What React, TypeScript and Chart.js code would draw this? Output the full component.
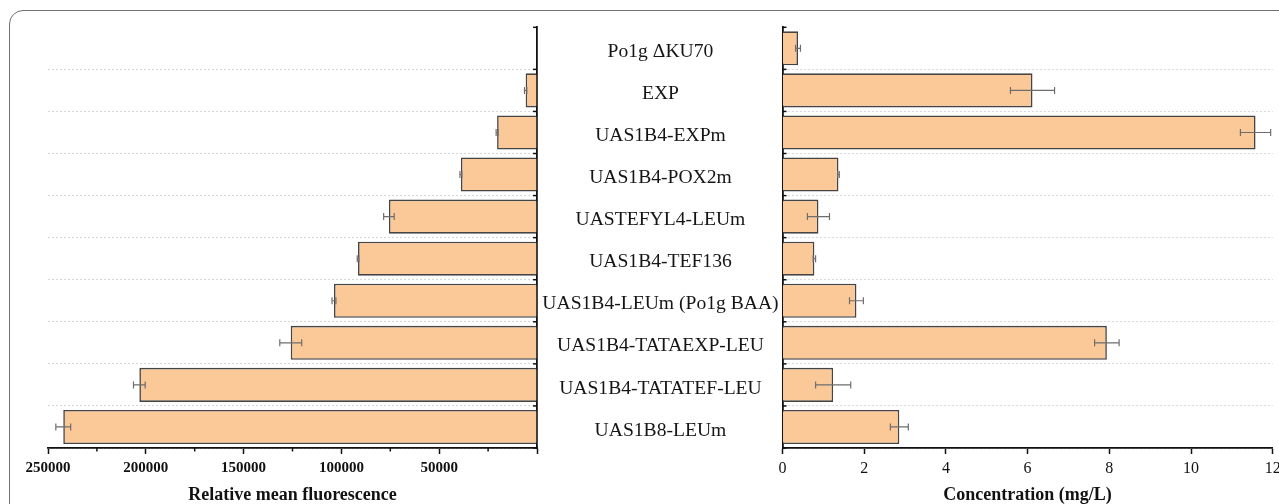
import React, { useEffect, useRef } from "react";
import { Chart, registerables } from "chart.js";

Chart.register(...registerables);

const categories = [
  "Po1g \u0394KU70",
  "EXP",
  "UAS1B4-EXPm",
  "UAS1B4-POX2m",
  "UASTEFYL4-LEUm",
  "UAS1B4-TEF136",
  "UAS1B4-LEUm (Po1g BAA)",
  "UAS1B4-TATAEXP-LEU",
  "UAS1B4-TATATEF-LEU",
  "UAS1B8-LEUm",
];
const fluorescence = [0, 5800, 20400, 38900, 75700, 91500, 103800, 125900, 203300, 242200];
const fluorescenceErr = [0, 600, 500, 500, 2700, 400, 1000, 5600, 3000, 3800];
const concentration = [0.38, 6.12, 11.58, 1.37, 0.88, 0.78, 1.81, 7.94, 1.24, 2.86];
const concentrationErr = [0.06, 0.54, 0.37, 0.02, 0.27, 0.03, 0.17, 0.3, 0.43, 0.22];
const fluorescenceTicks = [50000, 100000, 150000, 200000, 250000];
const fluorescenceMinorTicks = [25000, 75000, 125000, 175000, 225000];

const SERIF = '"Liberation Serif", "Times New Roman", serif';
const BAR_FILL = "rgb(251, 200, 152)";
const BAR_BORDER = "#444444";
const AXIS = "#111";

const errorBarPlugin = {
  id: "errorBars",
  afterDatasetsDraw(chart: any) {
    const errs: number[] = chart.options.plugins.errorBars.errors;
    const vals: number[] = chart.data.datasets[0].data;
    const meta = chart.getDatasetMeta(0);
    const xs = chart.scales.x;
    const ctx = chart.ctx;
    ctx.save();
    ctx.strokeStyle = "#6e6e6e";
    ctx.lineWidth = 1.2;
    meta.data.forEach((el: any, i: number) => {
      const e = errs[i];
      if (!e) return;
      const x1 = xs.getPixelForValue(vals[i] - e);
      const x2 = xs.getPixelForValue(vals[i] + e);
      const y = el.y;
      ctx.beginPath();
      ctx.moveTo(x1, y);
      ctx.lineTo(x2, y);
      ctx.moveTo(x1, y - 3.5);
      ctx.lineTo(x1, y + 3.5);
      ctx.moveTo(x2, y - 3.5);
      ctx.lineTo(x2, y + 3.5);
      ctx.stroke();
    });
    ctx.restore();
  },
};

const innerTicksPlugin = {
  id: "innerTicks",
  afterDraw(chart: any) {
    const opts = chart.options.plugins.innerTicks;
    const ys = chart.scales.y;
    const ctx = chart.ctx;
    const n = chart.data.labels.length;
    const step = ys.getPixelForValue(1) - ys.getPixelForValue(0);
    const axisX = opts.side === "right" ? chart.chartArea.right : chart.chartArea.left;
    const dir = opts.side === "right" ? -1 : 1;
    ctx.save();
    ctx.strokeStyle = AXIS;
    ctx.lineWidth = 1.5;
    for (let i = 0; i <= n; i++) {
      const y = ys.getPixelForValue(0) - step / 2 + i * step;
      ctx.beginPath();
      ctx.moveTo(axisX, y);
      ctx.lineTo(axisX + dir * 4, y);
      ctx.stroke();
    }
    const minor: number[] = opts.minor || [];
    const xs = chart.scales.x;
    minor.forEach((v) => {
      const x = xs.getPixelForValue(v);
      ctx.beginPath();
      ctx.moveTo(x, chart.chartArea.bottom);
      ctx.lineTo(x, chart.chartArea.bottom + 3.5);
      ctx.stroke();
    });
    ctx.restore();
  },
};

const categoryLabelPlugin = {
  id: "categoryLabels",
  afterDraw(chart: any) {
    const opts = chart.options.plugins.categoryLabels;
    if (!opts || !opts.show) return;
    const ys = chart.scales.y;
    const ctx = chart.ctx;
    ctx.save();
    ctx.font = `19.6px ${SERIF}`;
    ctx.fillStyle = "#151515";
    ctx.textAlign = "center";
    ctx.textBaseline = "middle";
    const cx = chart.chartArea.left / 2 + 0.7;
    chart.data.labels.forEach((lab: string, i: number) => {
      ctx.fillText(lab, cx, ys.getPixelForValue(i) + 3.5);
    });
    ctx.restore();
  },
};

function gridColor(ctx: any) {
  return ctx.index === 0 || ctx.index === categories.length ? "rgba(0,0,0,0)" : "#d6d6d6";
}

function baseDataset(data: number[]) {
  return {
    data,
    backgroundColor: BAR_FILL,
    borderColor: BAR_BORDER,
    borderWidth: 1.6,
    categoryPercentage: 1,
    barPercentage: 0.81,
  };
}

export default function App() {
  const leftRef = useRef<HTMLCanvasElement>(null);
  const rightRef = useRef<HTMLCanvasElement>(null);

  useEffect(() => {
    const left = new Chart(leftRef.current!, {
      type: "bar",
      data: { labels: categories, datasets: [baseDataset(fluorescence) as any] },
      plugins: [errorBarPlugin, innerTicksPlugin],
      options: {
        indexAxis: "y",
        animation: false,
        responsive: false,
        layout: { padding: { left: 48, right: 8, top: 27.3, bottom: 0 } },
        plugins: {
          legend: { display: false },
          tooltip: { enabled: false },
          errorBars: { errors: fluorescenceErr },
          innerTicks: { side: "right", minor: fluorescenceMinorTicks },
        } as any,
        scales: {
          x: {
            type: "linear",
            position: "bottom",
            reverse: true,
            min: 0,
            max: 250000,
            afterBuildTicks: (s: any) => {
              s.ticks = [0, ...fluorescenceTicks].map((v) => ({ value: v }));
            },
            ticks: {
              callback: (v: any) => (v === 0 ? "" : String(v)),
              font: { family: SERIF, size: 15, weight: "bold" },
              color: AXIS,
              padding: 5,
              maxRotation: 0,
              autoSkip: false,
            },
            grid: { drawOnChartArea: false, drawTicks: true, tickLength: 6, tickWidth: 1.5, tickColor: AXIS },
            border: { color: AXIS, width: 1.8 },
            title: {
              display: true,
              text: "Relative mean fluorescence",
              font: { family: SERIF, size: 18, weight: "bold" },
              color: AXIS,
              padding: { top: 0, bottom: -2 },
            },
            afterFit: (s: any) => {
              s.height = 56;
            },
          },
          y: {
            type: "category",
            position: "right",
            offset: true,
            ticks: { display: false },
            grid: { color: gridColor, lineWidth: 1, drawTicks: false, offset: true },
            border: { color: AXIS, width: 1.8, dash: [2, 2] },
            afterFit: (s: any) => {
              s.width = 0;
            },
          },
        },
      } as any,
    });

    const right = new Chart(rightRef.current!, {
      type: "bar",
      data: { labels: categories, datasets: [baseDataset(concentration) as any] },
      plugins: [errorBarPlugin, innerTicksPlugin, categoryLabelPlugin],
      options: {
        indexAxis: "y",
        animation: false,
        responsive: false,
        layout: { padding: { left: 0, right: 27.3, top: 27.3, bottom: 0 } },
        plugins: {
          legend: { display: false },
          tooltip: { enabled: false },
          errorBars: { errors: concentrationErr },
          innerTicks: { side: "left", minor: [] },
          categoryLabels: { show: true },
        } as any,
        scales: {
          x: {
            type: "linear",
            position: "bottom",
            min: 0,
            max: 12,
            ticks: {
              stepSize: 2,
              font: { family: SERIF, size: 16 },
              color: AXIS,
              padding: 5,
              maxRotation: 0,
              autoSkip: false,
            },
            grid: { drawOnChartArea: false, drawTicks: true, tickLength: 6, tickWidth: 1.5, tickColor: AXIS },
            border: { color: AXIS, width: 1.8 },
            title: {
              display: true,
              text: "Concentration (mg/L)",
              font: { family: SERIF, size: 18, weight: "bold" },
              color: AXIS,
              padding: { top: 0, bottom: -2 },
            },
            afterFit: (s: any) => {
              s.height = 56;
            },
          },
          y: {
            type: "category",
            position: "left",
            offset: true,
            ticks: { display: false },
            grid: { color: gridColor, lineWidth: 1, drawTicks: false, offset: true },
            border: { color: AXIS, width: 1.8, dash: [2, 2] },
            afterFit: (s: any) => {
              s.width = 245.5;
            },
          },
        },
      } as any,
    });

    return () => {
      left.destroy();
      right.destroy();
    };
  }, []);

  return (
    <div
      style={{
        position: "absolute",
        left: 0,
        top: 0,
        width: 1279,
        height: 504,
        overflow: "hidden",
        background: "#fff",
      }}
    >
      <div
        style={{
          position: "absolute",
          left: 9,
          top: 10,
          width: 1320,
          height: 540,
          border: "1.5px solid #707070",
          borderRadius: 14,
          boxSizing: "border-box",
        }}
      />
      <canvas
        ref={leftRef}
        width={545}
        height={504}
        style={{ position: "absolute", left: 0, top: 0, width: 545, height: 504 }}
      />
      <canvas
        ref={rightRef}
        width={763}
        height={504}
        style={{ position: "absolute", left: 537, top: 0, width: 763, height: 504 }}
      />
    </div>
  );
}
